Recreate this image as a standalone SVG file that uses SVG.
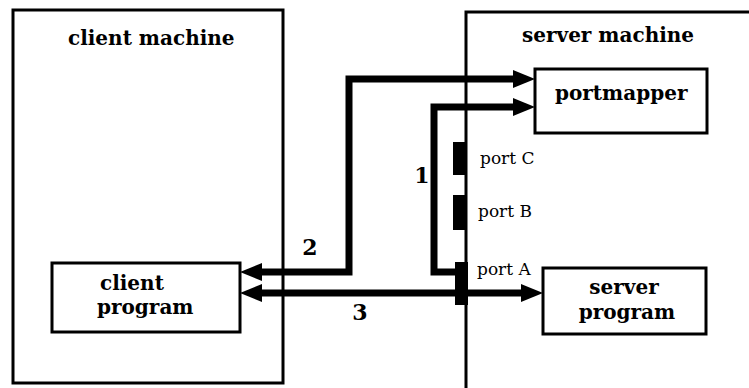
<svg xmlns="http://www.w3.org/2000/svg" width="749" height="388" viewBox="0 0 749 388">
<style>
  .box { fill: #fff; stroke: #000; stroke-width: 3; }
  .frame { fill: none; stroke: #000; stroke-width: 3; }
  .conn { fill: none; stroke: #000; stroke-width: 7; stroke-linejoin: miter; }
  .title { font-family: "DejaVu Serif", "Liberation Serif", serif; font-weight: bold; font-size: 20px; fill: #000; }
  .num { font-family: "DejaVu Serif", "Liberation Serif", serif; font-weight: bold; font-size: 22px; fill: #000; text-anchor: middle; }
  .port { font-family: "DejaVu Serif", "Liberation Serif", serif; font-size: 17px; fill: #000; }
  .blk { fill: #000; }
</style>
<defs>
  <marker id="ah" markerUnits="userSpaceOnUse" markerWidth="24" markerHeight="20" refX="2" refY="9" orient="auto-start-reverse">
    <path d="M0,0 L22,9 L0,18 z" fill="#000"/>
  </marker>
</defs>
<rect width="749" height="388" fill="#fff"/>

<g id="client-machine">
  <rect class="frame" x="13" y="10" width="270" height="373"/>
  <text class="title" x="68" y="45">client machine</text>
</g>

<g id="server-machine">
  <path class="frame" d="M466,388 V12 H749"/>
  <text class="title" x="522" y="42">server machine</text>
</g>

<g id="portmapper">
  <rect class="box" x="535" y="69" width="172" height="64"/>
  <text class="title" x="555" y="100">portmapper</text>
</g>

<g id="client-program">
  <rect class="box" x="52" y="263" width="188" height="69"/>
  <text class="title" x="100" y="290">client</text>
  <text class="title" x="97" y="314">program</text>
</g>

<g id="server-program">
  <rect class="box" x="543" y="268" width="163" height="66"/>
  <text class="title" x="624" y="294" text-anchor="middle">server</text>
  <text class="title" x="627" y="319" text-anchor="middle">program</text>
</g>

<g id="port-c">
  <rect class="blk" x="453" y="142" width="13" height="33"/>
  <text class="port" x="480" y="164">port C</text>
</g>
<g id="port-b">
  <rect class="blk" x="453" y="195" width="13" height="35"/>
  <text class="port" x="478" y="217">port B</text>
</g>
<g id="port-a">
  <rect class="blk" x="455" y="262" width="13" height="43"/>
  <text class="port" x="477" y="275">port A</text>
</g>

<g id="connectors">
  <path class="conn" d="M260,272 H349 V79 H515" marker-start="url(#ah)" marker-end="url(#ah)"/>
  <path class="conn" d="M456,272 H434 V107 H515" marker-end="url(#ah)"/>
  <path class="conn" d="M260,293 H523" marker-start="url(#ah)" marker-end="url(#ah)"/>
  <text class="num" x="310" y="255">2</text>
  <text class="num" x="422" y="183">1</text>
  <text class="num" x="360" y="320">3</text>
</g>
</svg>
